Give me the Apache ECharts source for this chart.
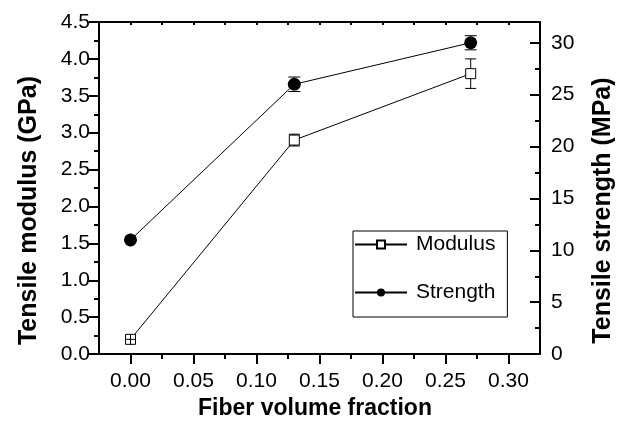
<!DOCTYPE html>
<html>
<head>
<meta charset="utf-8">
<script src="https://cdn.jsdelivr.net/npm/echarts@6/dist/echarts.min.js"></script>
<style>
html,body{margin:0;padding:0;background:#fff;}
#chart{width:624px;height:425px;}
</style>
</head>
<body>
<div id="chart"></div>
<script>
// ---- data ----
const fiberFraction = [0, 0.13, 0.27];
const modulus = [0.2, 2.9, 3.8];          // GPa
const modulusErr = [0.02, 0.08, 0.2];
const strength = [11, 26, 30];            // MPa
const strengthErr = [0.2, 0.7, 0.68];
const xMajorTicks = [0, 0.05, 0.10, 0.15, 0.20, 0.25, 0.30];
const xMinorTicks = [0.025, 0.075, 0.125, 0.175, 0.225, 0.275];
const xTopTicks = [0, 0.025, 0.05, 0.075, 0.10, 0.125, 0.15, 0.175, 0.20, 0.225, 0.25, 0.275, 0.30];
const rightMajorTicks = [0, 5, 10, 15, 20, 25, 30];
const rightMinorTicks = [2.5, 7.5, 12.5, 17.5, 22.5, 27.5];

const FONT = 'Liberation Sans, Arial, Helvetica, sans-serif';
const BLACK = '#000';

function errRenderer(markerHalf, capHalf) {
  return function (params, api) {
    const x = api.value(0), y = api.value(1), e = api.value(2);
    const c = api.coord([x, y]);
    const top = api.coord([x, y + e]);
    const bot = api.coord([x, y - e]);
    const style = { stroke: BLACK, lineWidth: 1 };
    const children = [];
    if (c[1] - top[1] > markerHalf) {
      children.push({ type: 'line', shape: { x1: c[0], y1: top[1], x2: c[0], y2: c[1] - markerHalf }, style });
      children.push({ type: 'line', shape: { x1: c[0] - capHalf, y1: top[1], x2: c[0] + capHalf, y2: top[1] }, style });
      children.push({ type: 'line', shape: { x1: c[0], y1: bot[1], x2: c[0], y2: c[1] + markerHalf }, style });
      children.push({ type: 'line', shape: { x1: c[0] - capHalf, y1: bot[1], x2: c[0] + capHalf, y2: bot[1] }, style });
    } else {
      children.push({ type: 'line', shape: { x1: c[0], y1: c[1] - markerHalf, x2: c[0], y2: c[1] + markerHalf }, style });
      children.push({ type: 'line', shape: { x1: c[0] - markerHalf, y1: c[1], x2: c[0] + markerHalf, y2: c[1] }, style });
    }
    return { type: 'group', children };
  };
}

const modPts = fiberFraction.map((x, i) => [x, modulus[i]]);
const strPts = fiberFraction.map((x, i) => [x, strength[i]]);
const modErrPts = fiberFraction.map((x, i) => [x, modulus[i], modulusErr[i]]);
const strErrPts = fiberFraction.map((x, i) => [x, strength[i], strengthErr[i]]);

const axisLineStyle = { color: BLACK, width: 2 };
const chart = echarts.init(document.getElementById('chart'), null, { renderer: 'canvas' });

chart.setOption({
  animation: false,
  backgroundColor: '#fff',
  textStyle: { fontFamily: FONT },
  grid: { left: 99, right: 83, top: 22, bottom: 69 },
  legend: {
    data: ['Modulus', 'Strength'],
    orient: 'vertical',
    left: 353, top: 231,
    itemWidth: 52, itemHeight: 10, itemGap: 27,
    padding: [3, 12, 14, 1],
    borderColor: BLACK, borderWidth: 1,
    textStyle: { fontSize: 21, color: BLACK, fontFamily: FONT, padding: [0, 0, 0, 4] }
  },
  xAxis: [
    {
      type: 'value', position: 'bottom', min: -0.025, max: 0.325,
      name: 'Fiber volume fraction', nameLocation: 'middle', nameGap: 42,
      nameTextStyle: { fontSize: 23, fontWeight: 'bold', color: BLACK, fontFamily: FONT, padding: [0, 9, 0, 0] },
      axisLine: { show: true, onZero: false, lineStyle: axisLineStyle },
      axisTick: { show: true, length: 10, inside: false, customValues: xMajorTicks, lineStyle: { color: BLACK, width: 2 } },
      axisLabel: { show: true, customValues: xMajorTicks, margin: 17, fontSize: 21, color: BLACK, fontFamily: FONT,
        formatter: v => v.toFixed(2) },
      splitLine: { show: false }
    },
    {
      type: 'value', position: 'bottom', min: -0.025, max: 0.325,
      axisLine: { show: false, onZero: false },
      axisTick: { show: true, length: 5, inside: false, customValues: xMinorTicks, lineStyle: { color: BLACK, width: 2 } },
      axisLabel: { show: false },
      splitLine: { show: false }
    },
    {
      type: 'value', position: 'top', min: -0.025, max: 0.325,
      axisLine: { show: true, onZero: false, lineStyle: axisLineStyle },
      axisTick: { show: true, length: 3, inside: true, customValues: xTopTicks, lineStyle: { color: BLACK, width: 2 } },
      axisLabel: { show: false },
      splitLine: { show: false }
    }
  ],
  yAxis: [
    {
      type: 'value', position: 'left', min: 0, max: 4.5, interval: 0.5,
      name: 'Tensile modulus (GPa)', nameLocation: 'middle', nameGap: 57, nameRotate: 90,
      nameTextStyle: { fontSize: 25, fontWeight: 'bold', color: BLACK, fontFamily: FONT, padding: [0, 45, 0, 0] },
      axisLine: { show: true, onZero: false, lineStyle: axisLineStyle },
      axisTick: { show: true, length: 10, inside: false, lineStyle: { color: BLACK, width: 2 } },
      minorTick: { show: true, splitNumber: 2, length: 5, lineStyle: { color: BLACK, width: 2 } },
      axisLabel: { margin: 9, fontSize: 21, color: BLACK, fontFamily: FONT, formatter: v => v.toFixed(1) },
      splitLine: { show: false }
    },
    {
      type: 'value', position: 'right', min: 0, max: 32,
      name: 'Tensile strength (MPa)', nameLocation: 'middle', nameGap: 51, nameRotate: 90,
      nameTextStyle: { fontSize: 25, fontWeight: 'bold', color: BLACK, fontFamily: FONT, padding: [0, 45, 0, 0] },
      axisLine: { show: true, onZero: false, lineStyle: axisLineStyle },
      axisTick: { show: true, length: 10, inside: true, customValues: rightMajorTicks, lineStyle: { color: BLACK, width: 2 } },
      axisLabel: { customValues: rightMajorTicks, margin: 11, fontSize: 21, color: BLACK, fontFamily: FONT },
      splitLine: { show: false }
    },
    {
      type: 'value', position: 'right', min: 0, max: 32,
      axisLine: { show: false, onZero: false },
      axisTick: { show: true, length: 5, inside: true, customValues: rightMinorTicks, lineStyle: { color: BLACK, width: 2 } },
      axisLabel: { show: false },
      splitLine: { show: false }
    }
  ],
  series: [
    {
      name: 'Modulus', type: 'line', xAxisIndex: 0, yAxisIndex: 0, data: modPts,
      symbol: 'rect', symbolSize: 10, z: 3,
      lineStyle: { color: BLACK, width: 1 },
      itemStyle: { color: '#fff', borderColor: BLACK, borderWidth: 1 }
    },
    {
      name: 'Strength', type: 'line', xAxisIndex: 0, yAxisIndex: 1, data: strPts,
      symbol: 'circle', symbolSize: 13, z: 3,
      lineStyle: { color: BLACK, width: 1 },
      itemStyle: { color: BLACK, borderColor: BLACK, borderWidth: 0 }
    },
    {
      name: 'modErr', type: 'custom', xAxisIndex: 0, yAxisIndex: 0, data: modErrPts, z: 4,
      renderItem: errRenderer(5, 5.5)
    },
    {
      name: 'strErr', type: 'custom', xAxisIndex: 0, yAxisIndex: 1, data: strErrPts, z: 4,
      renderItem: errRenderer(6.5, 6)
    }
  ]
});
</script>
</body>
</html>
